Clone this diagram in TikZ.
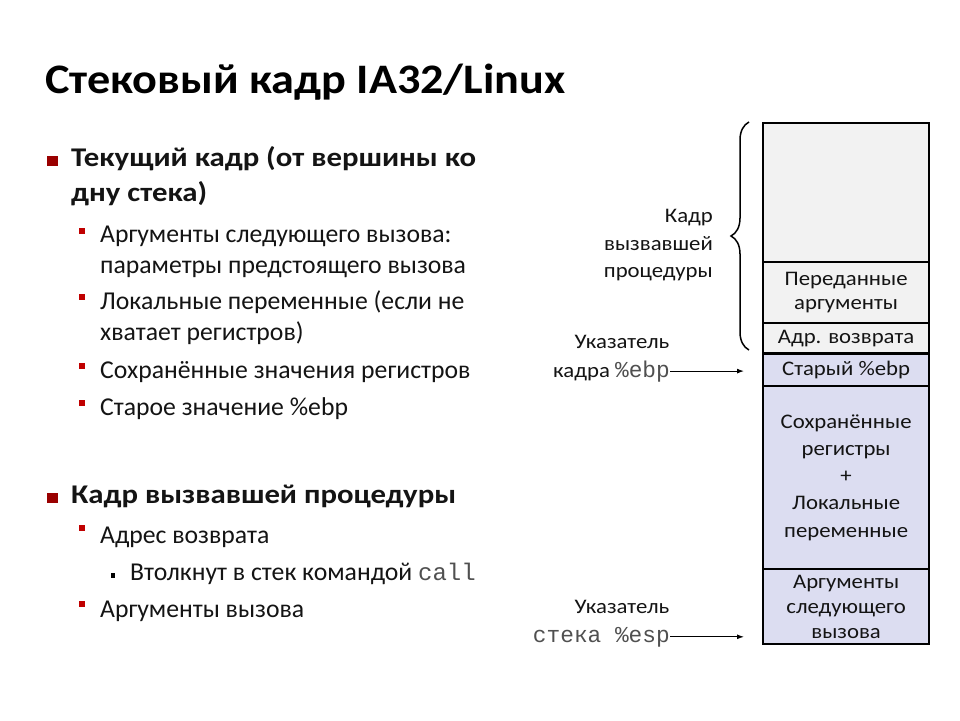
\documentclass[tikz,border=0pt]{standalone}
\usepackage{fontspec}
\setmainfont{Carlito}
\newfontfamily\monof{Liberation Mono}
\newfontfamily\titlef[FakeStretch=1.1]{Carlito}
\newfontfamily\lonef[FakeStretch=1.14]{Carlito}
\newfontfamily\diagf[FakeStretch=1.1]{Carlito}
\usetikzlibrary{decorations.pathreplacing,arrows.meta}
\definecolor{cgray}{HTML}{F2F2F2}
\definecolor{clav}{HTML}{DCDDF1}
\definecolor{bulA}{HTML}{9A0000}
\definecolor{bulB}{HTML}{C00000}
\definecolor{txt}{HTML}{141414}
\definecolor{mono}{HTML}{505050}
\begin{document}
\begin{tikzpicture}[x=1pt,y=-1pt,
  title/.style={anchor=base west,inner sep=0,font=\titlef\fontsize{42}{48}\selectfont\bfseries},
  lone/.style={anchor=base west,inner sep=0,font=\lonef\fontsize{27}{32}\selectfont\bfseries,text=txt},
  ltwo/.style={anchor=base west,inner sep=0,font=\fontsize{25.7}{30}\selectfont,text=txt},
  bone/.style={fill=bulA,inner sep=0,minimum width=11pt,minimum height=10pt},
  btwo/.style={fill=bulB,inner sep=0,minimum width=6pt,minimum height=6.5pt},
  bthree/.style={fill=black,inner sep=0,minimum width=4pt,minimum height=5pt},
  cell/.style={draw,line width=2.2pt,anchor=north west,inner sep=0,minimum width=166pt,align=center,font=\diagf\fontsize{20.7}{26.5}\selectfont,text=txt},
  lab/.style={inner sep=0,font=\diagf\fontsize{20.7}{28}\selectfont,text=txt},
  arr/.style={-{Latex[length=7pt,width=5pt]},line width=1.1pt,shorten >=18pt}
]
\useasboundingbox (0,0) rectangle (960,720);
\fill[white] (0,0) rectangle (960,720);
% title
\node[title] (ttl) at (45,93) {Стековый кадр IA32/Linux};
% left list
\node[bone] (b1) at (52,161) {};
\node[lone] (t1) at (71,166) {Текущий кадр (от вершины ко};
\node[lone] (t1b) at (71,201) {дну стека)};
\node[btwo] (b2) at (82,231) {};
\node[ltwo] (t2) at (100,242) {Аргументы следующего вызова:};
\node[ltwo] (t2b) at (100,273) {параметры предстоящего вызова};
\node[btwo] (b3) at (82,297) {};
\node[ltwo] (t3) at (100,309) {Локальные переменные (если не};
\node[ltwo] (t3b) at (100,340) {хватает регистров)};
\node[btwo] (b4) at (82,366) {};
\node[ltwo] (t4) at (100,378) {Сохранённые значения регистров};
\node[btwo] (b5) at (82,403) {};
\node[ltwo] (t5) at (100,415) {Старое значение \%ebp};
\node[bone] (b6) at (52,498) {};
\node[lone] (t6) at (71,503) {Кадр вызвавшей процедуры};
\node[btwo] (b7) at (82,528) {};
\node[ltwo] (t7) at (100,543) {Адрес возврата};
\node[bthree] (b8) at (113,575) {};
\node[ltwo] (t8) at (130,580) {Втолкнут в стек командой {\monof\fontsize{24}{28}\selectfont\color{mono}call}};
\node[btwo] (b9) at (82,604) {};
\node[ltwo] (t9) at (100,617) {Аргументы вызова};
% stack cells
\node[cell,fill=cgray,minimum height=139pt] (c1) at (762,122) {};
\node[cell,fill=cgray,minimum height=61pt,font=\diagf\fontsize{20.7}{24}\selectfont] (c2) at (762,261) {Переданные\\аргументы};
\node[cell,fill=cgray,minimum height=31pt] (c3) at (762,322) {Адр. возврата};
\node[cell,fill=clav,minimum height=32pt] (c4) at (762,353) {Старый \%ebp};
\node[cell,fill=clav,minimum height=183pt,font=\diagf\fontsize{20.7}{27.2}\selectfont] (c5) at (762,385) {Сохранённые\\регистры\\+\\Локальные\\переменные};
\node[cell,fill=clav,minimum height=75pt,font=\diagf\fontsize{20.7}{25}\selectfont] (c6) at (762,568) {Аргументы\\следующего\\вызова};
\draw[line width=2.8pt] (c4.north west) -- (c4.north east);
% brace
\draw[decorate,decoration={brace,amplitude=18pt},line width=1.5pt] (749,350) -- (749,122);
\node[lab,anchor=base east] (k1) at (713,222) {Кадр};
\node[lab,anchor=base east] (k2) at (713,250) {вызвавшей};
\node[lab,anchor=base east] (k3) at (713,277) {процедуры};
% pointers
\node[lab,anchor=base] (p1) at (622,348) {Указатель};
\node[lab,anchor=base east] (p2) at (670,377) {кадра {\monof\fontsize{22.8}{28}\selectfont\color{mono}\%ebp}};
\node[lab,anchor=base] (p3) at (622,613) {Указатель};
\node[lab,anchor=base east,font=\fontsize{22.8}{28}\selectfont\monof,text=mono] (p4) at (670,642) {стека \%esp};
\draw[arr] (p2.east) -- (p2.east -| c4.west);
\draw[arr] (p4.east) -- (p4.east -| c6.west);
\end{tikzpicture}
\end{document}
